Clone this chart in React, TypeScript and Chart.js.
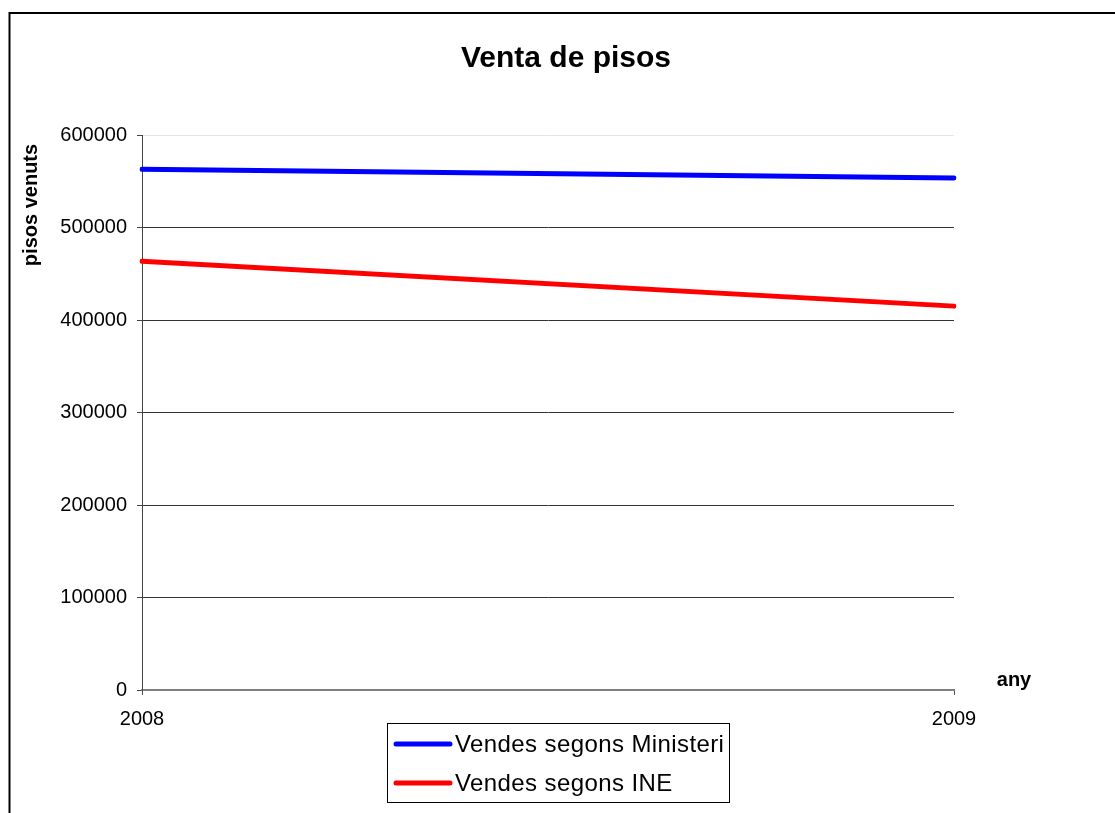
import React, { useEffect, useRef } from "react";
import { Chart, registerables } from "chart.js";

Chart.register(...registerables);

const years = ["2008", "2009"];
const ministeri = [563000, 553500];
const ine = [463500, 415000];
const seriesNames = ["Vendes segons Ministeri", "Vendes segons INE"];
const seriesColors = ["#0000FF", "#FF0000"];
const titleText = "Venta de pisos";
const yTitle = "pisos venuts";
const xTitle = "any";
const yMin = 0;
const yMax = 600000;
const yStep = 100000;

const FONT = "'Liberation Sans', Arial, sans-serif";

const decorPlugin = {
  id: "decor",
  afterDraw(chart: any) {
    const ctx = chart.ctx as any;
    ctx.save();
    // outer frame
    ctx.strokeStyle = "#000";
    ctx.lineWidth = 2;
    ctx.strokeRect(9.5, 13, 1300, 1000);

    // title
    ctx.fillStyle = "#000";
    ctx.font = `bold 30px ${FONT}`;
    ctx.textAlign = "center";
    ctx.textBaseline = "alphabetic";
    ctx.fillText(titleText, 566, 67);

    // x title
    ctx.font = `bold 20px ${FONT}`;
    ctx.fillText(xTitle, 1014, 686);

    // y title
    ctx.save();
    ctx.translate(31, 205);
    ctx.rotate(-Math.PI / 2);
    ctx.textBaseline = "middle";
    ctx.fillText(yTitle, 0, 0);
    ctx.restore();

    // legend
    ctx.lineWidth = 1;
    ctx.strokeStyle = "#000";
    ctx.strokeRect(387.5, 723.5, 342, 79);
    const rows = [744, 783];
    ctx.font = `24px ${FONT}`;
    ctx.textAlign = "left";
    ctx.textBaseline = "alphabetic";
    try {
      ctx.letterSpacing = "0.4px";
    } catch (e) {}
    rows.forEach((y, i) => {
      ctx.beginPath();
      ctx.strokeStyle = seriesColors[i];
      ctx.lineWidth = 5;
      ctx.lineCap = "round";
      ctx.moveTo(396, y);
      ctx.lineTo(450, y);
      ctx.stroke();
      ctx.fillStyle = "#000";
      ctx.fillText(seriesNames[i], 455, y + 7.5);
    });
    ctx.restore();
  },
};

export default function App() {
  const ref = useRef<HTMLCanvasElement>(null);
  useEffect(() => {
    if (!ref.current) return;
    const chart = new Chart(ref.current, {
      type: "line",
      data: {
        labels: years,
        datasets: [
          {
            label: seriesNames[0],
            data: ministeri,
            borderColor: seriesColors[0],
            backgroundColor: seriesColors[0],
            borderWidth: 5,
            borderCapStyle: "round",
            pointRadius: 0,
            tension: 0,
          },
          {
            label: seriesNames[1],
            data: ine,
            borderColor: seriesColors[1],
            backgroundColor: seriesColors[1],
            borderWidth: 5,
            borderCapStyle: "round",
            pointRadius: 0,
            tension: 0,
          },
        ],
      },
      options: {
        animation: false,
        responsive: false,
        maintainAspectRatio: false,
        layout: { padding: { left: 0, top: 135, right: 161, bottom: 0 } },
        plugins: {
          legend: { display: false },
          title: { display: false },
          tooltip: { enabled: false },
        },
        scales: {
          x: {
            offset: false,
            grid: {
              drawOnChartArea: false,
              drawTicks: true,
              tickLength: 5,
              tickColor: "#555",
            },
            border: { color: "#808080", width: 2 },
            ticks: {
              color: "#000",
              font: { family: FONT, size: 20 },
              padding: 12,
              maxRotation: 0,
            },
            afterFit: (s: any) => {
              s.height = 123;
            },
          },
          y: {
            min: yMin,
            max: yMax,
            grid: {
              color: (c: any) =>
                c.tick && c.tick.value === yMax
                  ? "#e4e4e4"
                  : c.tick && c.tick.value === 0
                  ? "#808080"
                  : "#333",
              tickColor: "#444",
              tickLength: 5,
            },
            border: { color: "#444", width: 1 },
            ticks: {
              stepSize: yStep,
              color: "#000",
              font: { family: FONT, size: 20 },
              padding: 10,
              callback: (v: any) => String(v),
            },
            afterFit: (s: any) => {
              s.width = 142;
            },
          },
        },
      },
      plugins: [decorPlugin],
    });
    return () => chart.destroy();
  }, []);
  return (
    <div style={{ position: "absolute", left: 0, top: 0, width: 1115, height: 813, background: "#fff" }}>
      <canvas ref={ref} width={1115} height={813} style={{ display: "block", width: 1115, height: 813 }} />
    </div>
  );
}
